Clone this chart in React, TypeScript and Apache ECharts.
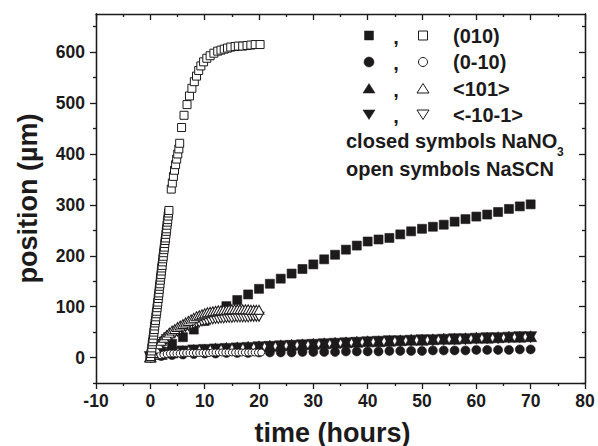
import React, { useEffect, useRef } from "react";
import * as echarts from "echarts";

// ---- data (time in hours, position in µm) ----
const nano3Hours = [0, 2, 4, 6, 8, 10, 12, 14, 16, 18, 20, 22, 24, 26, 28, 30, 32, 34, 36, 38, 40, 42, 44, 46, 48, 50, 52, 54, 56, 58, 60, 62, 64, 66, 68, 70];
const nano3_010 = [0, 12, 27, 40, 55, 72, 87, 101, 113, 124, 135, 145, 155, 165, 174, 183, 193, 202, 212, 220, 228, 232, 235, 242, 248, 253, 257, 261, 267, 272, 277, 281, 286, 292, 297, 301];
const nano3_0m10 = [0, 3, 5, 6, 7, 8, 8, 9, 9, 9, 10, 10, 10, 10, 11, 11, 11, 11, 12, 12, 12, 12, 13, 13, 13, 13, 14, 14, 14, 14, 15, 15, 15, 15, 16, 16];
const nano3_101 = [2, 7, 10, 13, 15, 16, 18, 19, 20, 21, 22, 23, 24, 25, 26, 27, 28, 29, 30, 31, 32, 32, 33, 34, 35, 35, 36, 37, 37, 38, 39, 39, 40, 41, 41, 42];
const nano3_m10m1 = [1, 6, 9, 12, 14, 15, 16, 17, 18, 19, 20, 21, 22, 23, 24, 25, 26, 27, 28, 29, 30, 31, 32, 32, 33, 34, 34, 35, 36, 36, 37, 38, 38, 39, 40, 40];

const nascn_010: [number, number][] = [
  [0.05, 2], [0.12, 8], [0.2, 13], [0.27, 19], [0.35, 26], [0.42, 31], [0.5, 37], [0.58, 44], [0.65, 50], [0.73, 55],
  [0.8, 62], [0.87, 68], [0.95, 73], [1.02, 80], [1.1, 86], [1.17, 91], [1.24, 98], [1.31, 104], [1.38, 109], [1.45, 116],
  [1.52, 122], [1.58, 127], [1.64, 134], [1.71, 140], [1.77, 145], [1.84, 152], [1.9, 158], [1.97, 163], [2.03, 170], [2.1, 176],
  [2.16, 181], [2.24, 188], [2.31, 194], [2.38, 199], [2.45, 206], [2.52, 212], [2.59, 217], [2.66, 224], [2.73, 230], [2.8, 235],
  [2.87, 242], [2.94, 248], [3.0, 253], [3.07, 260], [3.14, 266], [3.21, 271], [3.28, 278], [3.35, 284], [3.42, 289],
  [3.85, 331], [4.05, 343], [4.25, 356], [4.45, 368], [4.65, 379], [4.85, 390], [5.05, 400], [5.25, 410], [5.4, 421],
  [5.75, 452], [6.2, 476], [6.75, 497], [7.2, 514], [7.65, 529], [8.1, 542], [8.5, 553], [8.9, 564], [9.3, 573], [9.8, 581],
  [10.4, 588], [11.0, 593], [11.7, 598], [12.4, 602], [13.0, 604], [13.6, 606], [14.2, 608], [14.8, 610], [15.6, 611],
  [16.2, 612], [17.0, 612], [17.8, 613], [18.5, 614], [19.3, 615], [20.2, 615],
];
const nascn_0m10: [number, number][] = [
  [0, 0], [0.6, 2], [1.2, 4], [1.8, 5], [2.4, 6], [3.0, 7], [3.6, 8], [4.2, 8], [4.8, 8], [5.4, 8], [6.0, 9], [6.6, 9],
  [7.2, 9], [7.8, 9], [8.4, 9], [9.0, 9], [9.6, 9], [10.2, 9], [10.8, 9], [11.4, 10], [12.0, 10], [12.6, 10], [13.2, 10],
  [13.8, 10], [14.4, 10], [15.0, 10], [15.6, 10], [16.2, 10], [16.8, 10], [17.4, 10], [18.0, 10], [18.6, 10], [19.2, 10],
  [19.8, 10], [20.4, 10],
];
const nascnTriHours = [0, 0.5, 1, 1.5, 2, 2.5, 3, 3.5, 4, 4.5, 5, 5.5, 6, 6.5, 7, 7.5, 8, 8.5, 9, 9.5, 10, 10.5, 11, 11.5, 12, 12.5, 13, 13.5, 14, 14.5, 15, 15.5, 16, 16.5, 17, 17.5, 18, 18.5, 19, 19.5, 20];
const nascn_101 = [0, 9, 18, 26, 33, 39, 44, 49, 53, 56, 60, 63, 66, 69, 72, 75, 78, 81, 83, 85, 87, 89, 90, 91, 92, 93, 93, 94, 94, 95, 95, 95, 95, 95, 95, 95, 95, 94, 94, 94, 94];
const nascn_m10m1 = [0, 7, 14, 20, 26, 31, 36, 40, 44, 48, 51, 54, 57, 60, 62, 64, 66, 68, 69, 71, 72, 73, 74, 75, 76, 76, 77, 77, 78, 78, 78, 79, 79, 79, 79, 79, 79, 80, 80, 80, 80];

const yMajorTicks = [0, 100, 200, 300, 400, 500, 600];
const yMinorTicks = [-50, 50, 150, 250, 350, 450, 550, 650];
const legendRows = ["(010)", "(0-10)", "<101>", "<-10-1>"];

const INK = "#1c1a1b";
const FONT = "'Liberation Sans', Arial, Helvetica, sans-serif";

function zip(xs: number[], ys: number[]) {
  return xs.map((x, i) => [x, ys[i]]);
}

function scatter(name: string, data: any[], symbol: string, size: any, open: boolean, rotate = 0) {
  return {
    name,
    type: "scatter",
    data,
    symbol,
    symbolSize: size,
    symbolRotate: rotate,
    xAxisIndex: 0,
    yAxisIndex: 0,
    itemStyle: open
      ? { color: "#ffffff", borderColor: INK, borderWidth: 1, opacity: 1 }
      : { color: INK, borderColor: INK, borderWidth: 0.6, opacity: 1 },
    emphasis: { disabled: true },
    silent: true,
  };
}

export default function App() {
  const ref = useRef<HTMLDivElement>(null);
  useEffect(() => {
    if (!ref.current) return;
    const chart = echarts.init(ref.current, null, { renderer: "svg" });
    const lineStyle = { color: INK, width: 1.3 };
    const labelStyle = { color: INK, fontFamily: FONT, fontWeight: "bold" as const, fontSize: 17.5 };

    const xBase = {
      type: "value",
      min: -10,
      max: 80,
      interval: 10,
      splitLine: { show: false },
      axisLine: { show: true, onZero: false, lineStyle },
      minorTick: { show: true, splitNumber: 2, length: 3, lineStyle },
    };
    const yBase = {
      type: "value",
      min: -50,
      max: 675,
      splitLine: { show: false },
      axisLine: { show: true, onZero: false, lineStyle },
    };

    // legend graphics
    const g: any[] = [];
    const rowY = [35.5, 62, 88.5, 114.5];
    const cx1 = 369, cx2 = 423;
    const closedStyle = { fill: INK, stroke: INK, lineWidth: 0.5 };
    const openStyle = { fill: "#fff", stroke: INK, lineWidth: 1 };
    g.push({ type: "rect", shape: { x: cx1 - 4.5, y: rowY[0] - 4.5, width: 9, height: 9 }, style: closedStyle });
    g.push({ type: "rect", shape: { x: cx2 - 4.5, y: rowY[0] - 4.5, width: 9, height: 9 }, style: openStyle });
    g.push({ type: "circle", shape: { cx: cx1, cy: rowY[1], r: 5 }, style: closedStyle });
    g.push({ type: "circle", shape: { cx: cx2, cy: rowY[1], r: 4.5 }, style: openStyle });
    const up = (cx: number, cy: number) => [[cx - 6, cy + 4.5], [cx + 6, cy + 4.5], [cx, cy - 5]];
    const down = (cx: number, cy: number) => [[cx - 6, cy - 4.5], [cx + 6, cy - 4.5], [cx, cy + 5]];
    g.push({ type: "polygon", shape: { points: up(cx1, rowY[2]) }, style: closedStyle });
    g.push({ type: "polygon", shape: { points: up(cx2, rowY[2]) }, style: openStyle });
    g.push({ type: "polygon", shape: { points: down(cx1, rowY[3]) }, style: closedStyle });
    g.push({ type: "polygon", shape: { points: down(cx2, rowY[3]) }, style: openStyle });
    legendRows.forEach((t, i) => {
      g.push({
        type: "text",
        x: 396,
        y: rowY[i] + 1,
        style: { text: ",", fill: INK, font: `bold 20px ${FONT}`, align: "center", verticalAlign: "middle" },
      });
      g.push({
        type: "text",
        x: 453,
        y: rowY[i],
        style: { text: t, fill: INK, font: `bold 20px ${FONT}`, align: "left", verticalAlign: "middle" },
      });
    });
    g.push({
      type: "text",
      x: 346,
      y: 141,
      style: { text: "closed symbols NaNO", fill: INK, font: `bold 20px ${FONT}`, align: "left", verticalAlign: "middle" },
    });
    g.push({
      type: "text",
      x: 557,
      y: 152,
      style: { text: "3", fill: INK, font: `bold 12px ${FONT}`, align: "left", verticalAlign: "middle" },
    });
    g.push({
      type: "text",
      x: 346,
      y: 169,
      style: { text: "open symbols NaSCN", fill: INK, font: `bold 20px ${FONT}`, align: "left", verticalAlign: "middle" },
    });

    chart.setOption({
      animation: false,
      backgroundColor: "#ffffff",
      grid: { left: 96, right: 13, top: 14, bottom: 63, containLabel: false, outerBoundsMode: "none" },
      xAxis: [
        {
          ...xBase,
          position: "bottom",
          axisTick: { show: true, inside: false, length: 6, lineStyle },
          axisLabel: { ...labelStyle, margin: 9 },
          name: "time (hours)",
          nameLocation: "middle",
          nameGap: 36,
          nameTextStyle: { color: INK, fontFamily: FONT, fontWeight: "bold", fontSize: 27, padding: [0, 16, 0, 0] },
        },
        {
          ...xBase,
          position: "top",
          axisTick: { show: true, inside: true, length: 6, lineStyle },
          axisLabel: { show: false },
        },
      ],
      yAxis: [
        {
          ...yBase,
          position: "left",
          axisTick: { show: true, inside: false, length: 6, lineStyle, customValues: yMajorTicks },
          axisLabel: { ...labelStyle, margin: 11, customValues: yMajorTicks },
          name: "position (µm)",
          nameLocation: "middle",
          nameGap: 55,
          nameTextStyle: { color: INK, fontFamily: FONT, fontWeight: "bold", fontSize: 27 },
        },
        {
          ...yBase,
          position: "left",
          axisTick: { show: true, inside: false, length: 3, lineStyle, customValues: yMinorTicks },
          axisLabel: { show: false },
        },
        {
          ...yBase,
          position: "right",
          axisTick: { show: true, inside: true, length: 6, lineStyle, customValues: yMajorTicks },
          axisLabel: { show: false },
        },
        {
          ...yBase,
          position: "right",
          axisTick: { show: true, inside: true, length: 3, lineStyle, customValues: yMinorTicks },
          axisLabel: { show: false },
        },
      ],
      series: [
        scatter("(010) NaNO3", zip(nano3Hours, nano3_010), "rect", 9, false),
        scatter("(0-10) NaNO3", zip(nano3Hours, nano3_0m10), "circle", 9, false),
        scatter("<101> NaNO3", zip(nano3Hours, nano3_101), "triangle", [12, 11], false),
        scatter("<-10-1> NaNO3", zip(nano3Hours, nano3_m10m1), "triangle", [12, 11], false, 180),
        scatter("(0-10) NaSCN", nascn_0m10, "circle", 7, true),
        scatter("<-10-1> NaSCN", zip(nascnTriHours, nascn_m10m1), "triangle", [10, 9], true, 180),
        scatter("<101> NaSCN", zip(nascnTriHours, nascn_101), "triangle", [10, 9], true),
        scatter("(010) NaSCN", nascn_010, "rect", 8, true),
      ],
      graphic: { elements: g },
    });
    return () => chart.dispose();
  }, []);
  return (
    <div
      ref={ref}
      style={{ position: "fixed", left: 0, top: 0, width: 598, height: 446, background: "#fff" }}
    />
  );
}
